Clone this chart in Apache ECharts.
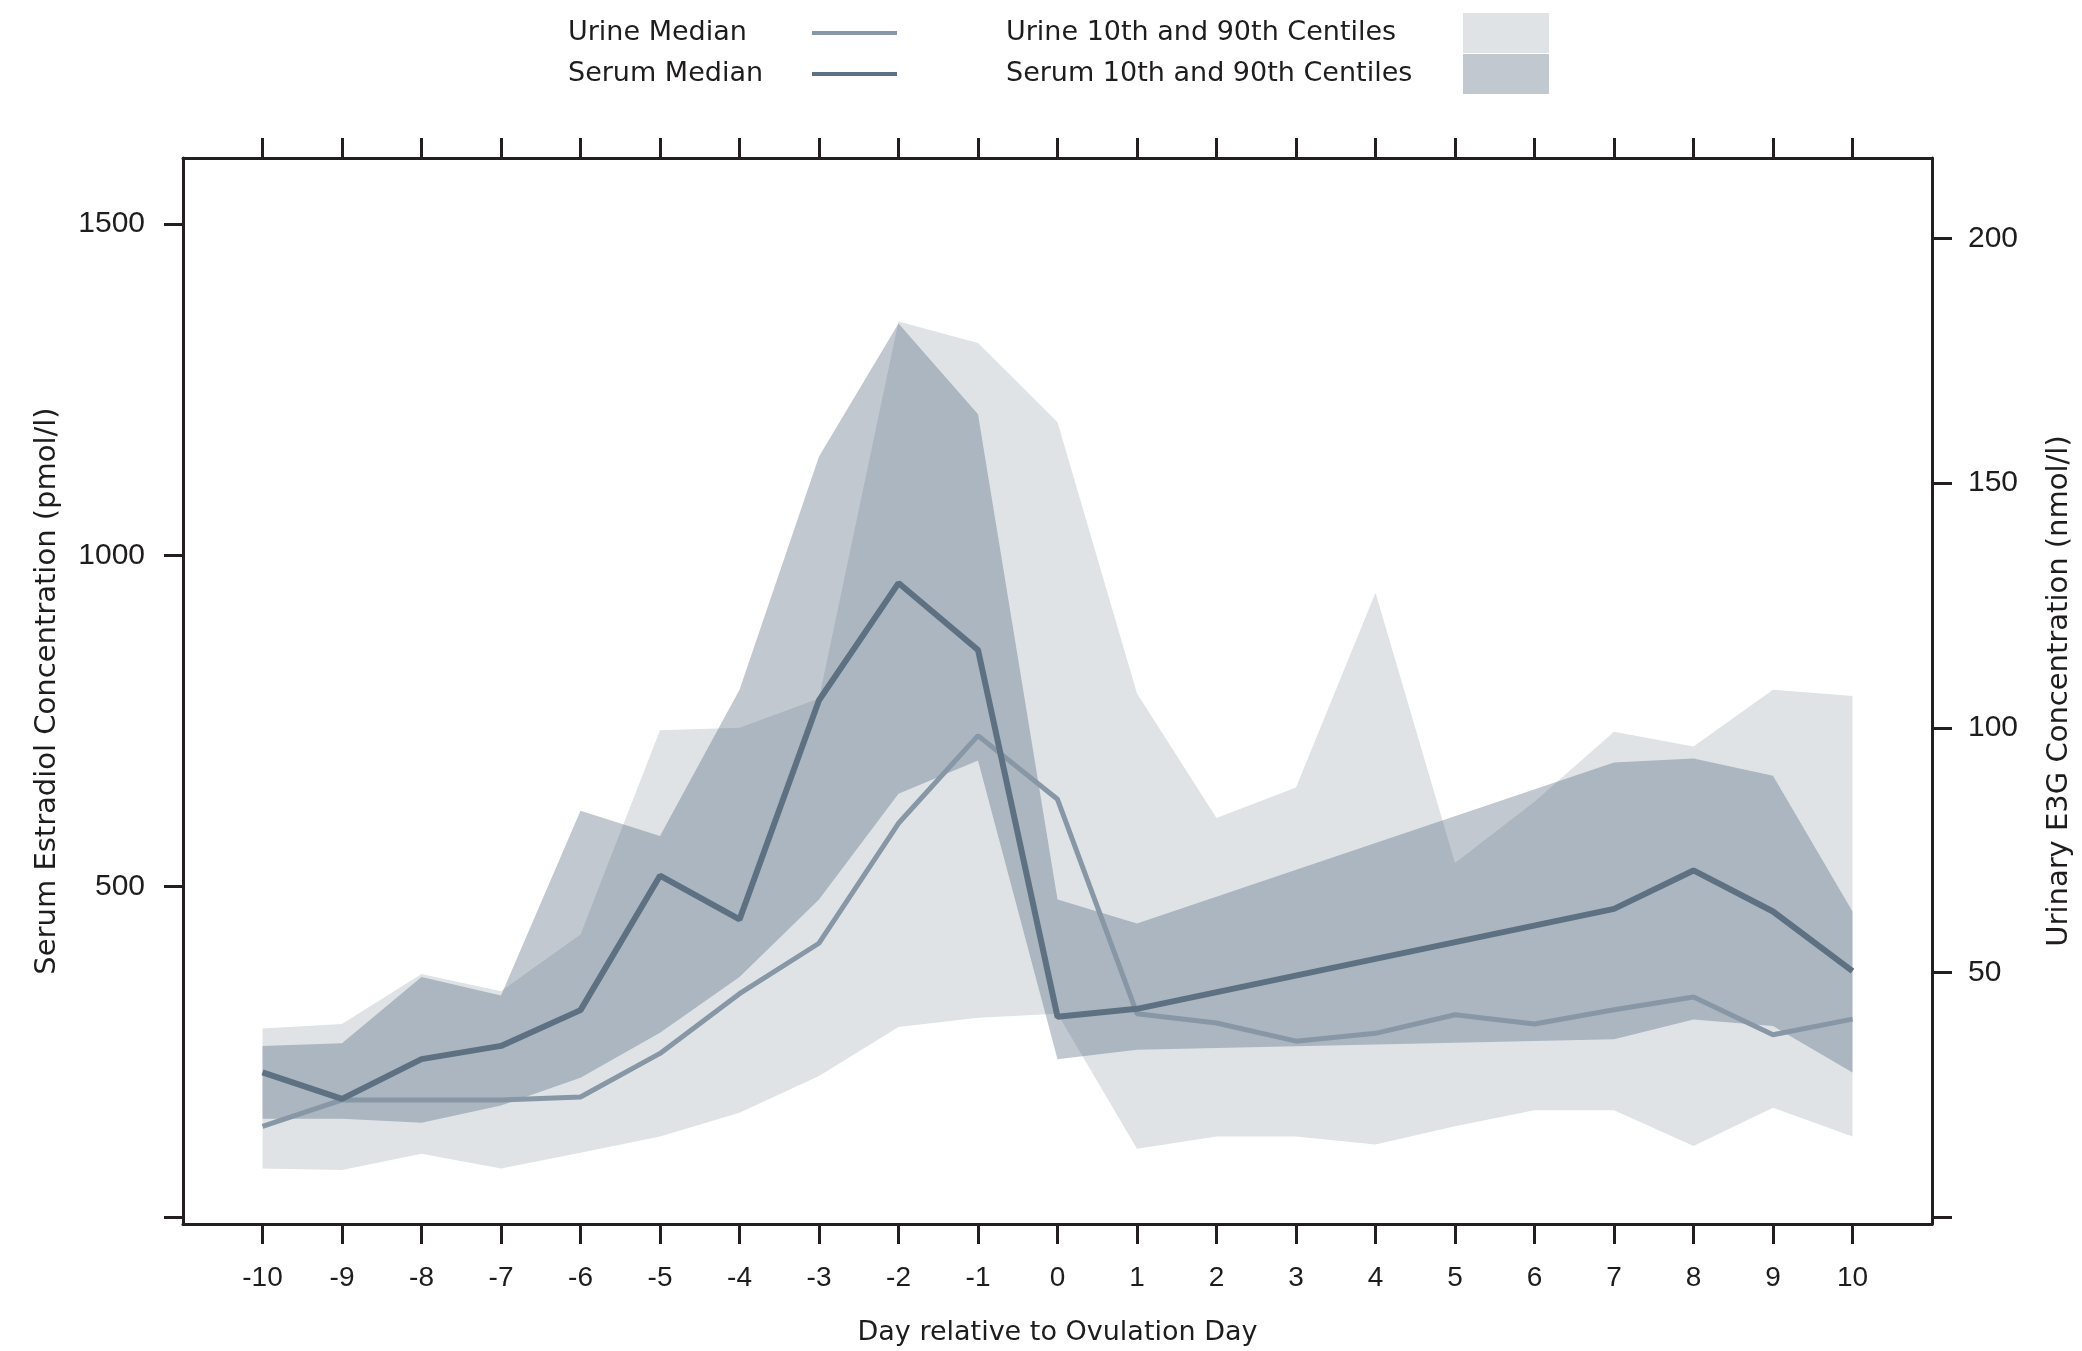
<!DOCTYPE html>
<html>
<head>
<meta charset="utf-8">
<script src="https://cdn.jsdelivr.net/npm/echarts@6/dist/echarts.min.js"></script>
<style>
html,body{margin:0;padding:0;background:#ffffff;}
#chart{width:2082px;height:1351px;}
</style>
</head>
<body>
<div id="chart"></div>
<script>
// ---- data ----
const days = [-10,-9,-8,-7,-6,-5,-4,-3,-2,-1,0,1,2,3,4,5,6,7,8,9,10];
// urinary E3G (nmol/l, right axis)
const urineMedian = [18.6,24,24,24,24.6,33.5,45.7,56,80.5,98.4,85.4,41.6,39.7,36,37.6,41.4,39.5,42.4,45,37.3,40.5];
const urineP10    = [10,9.7,13,10,13.2,16.5,21.4,28.9,38.9,40.8,41.6,14,16.5,16.5,14.9,18.6,21.9,21.9,14.6,22.4,16.5];
const urineP90    = [38.6,39.5,49.7,46.2,57.8,99.5,100,106,183,178.6,162.4,107,81.6,87.8,127.6,72.4,84.9,99.2,96.2,107.8,106.5];
// serum estradiol (pmol/l, left axis)
const serumMedian = [219,179,239,259,313,516,450,781,958,857,303,315,null,null,null,null,null,466,524,462,372];
const serumP10    = [149,149,143,169,211,279,363,480,640,690,239,253,null,null,null,null,null,269,299,289,219];
const serumP90    = [259,263,363,335,614,576,797,1149,1350,1213,480,444,null,null,null,null,null,687,693,667,462];
const tickDays    = days;
const leftTicks   = [0,500,1000,1500];
const leftLabels  = [500,1000,1500];
const rightTicks  = [0,50,100,150,200];
const rightLabels = [50,100,150,200];

const FRAME = '#231f20';
const TXT = '#1e1c1d';
const URINE_BAND = '#dfe3e6';
const SERUM_BAND = 'rgba(78,98,121,0.35)';
const SERUM_BAND_LEGEND = '#c2c8cf';
const URINE_LINE = '#8797a6';
const SERUM_LINE = '#5d7183';

function bandSeries(name, yAxisIndex, lo, hi, fill, z) {
  return {
    type: 'custom',
    name: name,
    xAxisIndex: 0,
    yAxisIndex: yAxisIndex,
    z: z,
    silent: true,
    itemStyle: { color: fill },
    data: days.map((d, i) => [d, lo[i], hi[i]]),
    encode: { x: 0, y: [1, 2] },
    renderItem: function (params, api) {
      if (params.dataIndex !== 0) return null;
      const up = [], down = [];
      days.forEach((d, i) => {
        if (hi[i] != null && lo[i] != null) {
          up.push(api.coord([d, hi[i]]));
          down.unshift(api.coord([d, lo[i]]));
        }
      });
      return { type: 'polygon', shape: { points: up.concat(down) }, style: { fill: fill } };
    }
  };
}

const plainNum = v => String(v);
const chart = echarts.init(document.getElementById('chart'), null, { renderer: 'canvas' });

const legendText = (w) => ({
  width: w, fontSize: 27, fontFamily: 'DejaVu Sans', color: TXT, lineHeight: 40,
  rich: { t: { align: 'left', fontSize: 27, fontFamily: 'DejaVu Sans', color: TXT, lineHeight: 40 } }
});

const option = {
  animation: false,
  backgroundColor: '#ffffff',
  grid: { left: 183, right: 148, top: 158, bottom: 122, containLabel: false },
  legend: [
    {
      orient: 'vertical', left: 563, top: 8, align: 'right',
      itemWidth: 85, itemHeight: 40, itemGap: 1,
      data: [
        { name: 'Urine Median', icon: 'path://M0,0H85V4H0Z', itemStyle: { color: URINE_LINE } },
        { name: 'Serum Median', icon: 'path://M0,0H85V4H0Z', itemStyle: { color: SERUM_LINE } }
      ],
      formatter: '{t|{name}}',
      textStyle: legendText(239)
    },
    {
      orient: 'vertical', left: 1001, top: 8, align: 'right',
      itemWidth: 86, itemHeight: 40, itemGap: 1,
      data: [
        { name: 'Urine 10th and 90th Centiles', icon: 'rect', itemStyle: { color: URINE_BAND } },
        { name: 'Serum 10th and 90th Centiles', icon: 'rect', itemStyle: { color: SERUM_BAND_LEGEND } }
      ],
      formatter: '{t|{name}}',
      textStyle: legendText(452)
    }
  ],
  xAxis: [
    {
      type: 'value', position: 'bottom', min: -11, max: 11, interval: 1,
      axisLine: { show: true, onZero: false, lineStyle: { color: FRAME, width: 3 } },
      axisTick: { show: true, customValues: tickDays, length: 20, lineStyle: { color: FRAME, width: 3 } },
      axisLabel: { customValues: tickDays, margin: 40, fontSize: 28, fontFamily: 'Liberation Sans', color: TXT, formatter: plainNum },
      splitLine: { show: false },
      name: 'Day relative to Ovulation Day', nameLocation: 'middle', nameGap: 95,
      nameTextStyle: { fontSize: 27, fontFamily: 'DejaVu Sans', color: TXT }
    },
    {
      type: 'value', position: 'top', min: -11, max: 11, interval: 1,
      axisLine: { show: true, onZero: false, lineStyle: { color: FRAME, width: 3 } },
      axisTick: { show: true, customValues: tickDays, length: 20, lineStyle: { color: FRAME, width: 3 } },
      axisLabel: { show: false },
      splitLine: { show: false }
    }
  ],
  yAxis: [
    {
      type: 'value', position: 'left', min: -10, max: 1600,
      axisLine: { show: true, onZero: false, lineStyle: { color: FRAME, width: 3 } },
      axisTick: { show: true, customValues: leftTicks, length: 19, lineStyle: { color: FRAME, width: 3 } },
      axisLabel: { customValues: leftLabels, margin: 38, fontSize: 30, fontFamily: 'Liberation Sans', color: TXT, formatter: plainNum },
      splitLine: { show: false },
      name: 'Serum Estradiol Concentration (pmol/l)', nameLocation: 'middle', nameGap: 121, nameRotate: 90,
      nameTextStyle: { fontSize: 29, fontFamily: 'DejaVu Sans', color: TXT }
    },
    {
      type: 'value', position: 'right', min: -1.35, max: 216.4,
      axisLine: { show: true, onZero: false, lineStyle: { color: FRAME, width: 3 } },
      axisTick: { show: true, customValues: rightTicks, length: 20, lineStyle: { color: FRAME, width: 3 } },
      axisLabel: { customValues: rightLabels, margin: 36, fontSize: 30, fontFamily: 'Liberation Sans', color: TXT, formatter: plainNum },
      splitLine: { show: false },
      name: 'Urinary E3G Concentration (nmol/l)', nameLocation: 'middle', nameGap: 113, nameRotate: 90,
      nameTextStyle: { fontSize: 29, fontFamily: 'DejaVu Sans', color: TXT }
    }
  ],
  series: [
    bandSeries('Urine 10th and 90th Centiles', 1, urineP10, urineP90, URINE_BAND, 1),
    bandSeries('Serum 10th and 90th Centiles', 0, serumP10, serumP90, SERUM_BAND, 2),
    {
      type: 'line', name: 'Urine Median', xAxisIndex: 0, yAxisIndex: 1, z: 3,
      data: days.map((d, i) => [d, urineMedian[i]]),
      showSymbol: false, symbol: 'none',
      lineStyle: { color: URINE_LINE, width: 5 }, itemStyle: { color: URINE_LINE }
    },
    {
      type: 'line', name: 'Serum Median', xAxisIndex: 0, yAxisIndex: 0, z: 4,
      data: days.map((d, i) => [d, serumMedian[i]]),
      connectNulls: true, showSymbol: false, symbol: 'none',
      lineStyle: { color: SERUM_LINE, width: 6 }, itemStyle: { color: SERUM_LINE }
    }
  ]
};
chart.setOption(option);
</script>
</body>
</html>
